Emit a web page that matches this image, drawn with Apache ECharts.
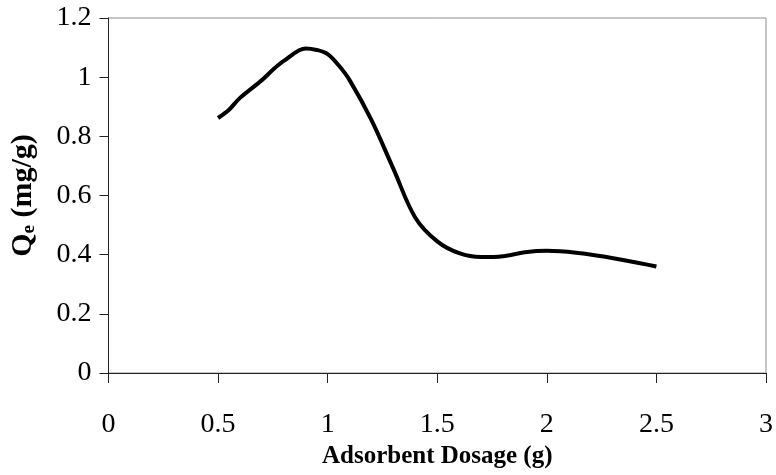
<!DOCTYPE html>
<html>
<head>
<meta charset="utf-8">
<script src="https://cdn.jsdelivr.net/npm/echarts@6/dist/echarts.min.js"></script>
<style>
  html, body { margin: 0; padding: 0; background: #fff; }
  #chart { width: 776px; height: 475px; }
</style>
</head>
<body>
<div id="chart"></div>
<script>
// adsorbent dosage (g) and Qe (mg/g)
const dosage = [0.5, 0.55, 0.6, 0.7, 0.75, 0.8, 0.9, 0.95, 1.0, 1.05, 1.1, 1.2, 1.3, 1.4, 1.5, 1.6, 1.7, 1.8, 1.9, 2.0, 2.5]
const qe = [0.862, 0.89, 0.93, 0.99, 1.025, 1.055, 1.097, 1.092, 1.078, 1.04, 0.99, 0.855, 0.69, 0.525, 0.445, 0.405, 0.392, 0.395, 0.408, 0.413, 0.36]

const xTicks = { min: 0, max: 3, interval: 0.5 }
const yTicks = { min: 0, max: 1.2, interval: 0.2 }

const font = 'Liberation Serif'

const chart = echarts.init(document.getElementById('chart'))

const option = {
  animation: false,
  grid: {
    left: 106,
    right: 6,
    top: 18,
    bottom: 102,
    show: true,
    borderColor: '#8c8c8c',
    borderWidth: 1
  },
  xAxis: {
    type: 'value',
    min: xTicks.min,
    max: xTicks.max,
    interval: xTicks.interval,
    name: 'Adsorbent Dosage (g)',
    nameLocation: 'middle',
    nameGap: 58,
    nameTextStyle: { fontFamily: font, fontWeight: 'bold', fontSize: 25, color: '#000' },
    axisLine: { lineStyle: { color: '#222', width: 1 } },
    axisTick: { inside: false, length: 10, lineStyle: { color: '#222' } },
    axisLabel: { fontFamily: font, fontSize: 28, color: '#000', margin: 38 },
    splitLine: { show: false }
  },
  yAxis: {
    type: 'value',
    min: yTicks.min,
    max: yTicks.max,
    interval: yTicks.interval,
    name: '{a|Q}{b|e}{a| (mg/g)}',
    nameLocation: 'middle',
    nameGap: 70,
    nameTextStyle: {
      rich: {
        a: { fontFamily: font, fontWeight: 'bold', fontSize: 30, color: '#000' },
        b: { fontFamily: font, fontWeight: 'bold', fontSize: 19, color: '#000', verticalAlign: 'bottom', padding: [12, 0, 0, 0] }
      }
    },
    axisLine: { show: true, lineStyle: { color: '#222', width: 1 } },
    axisTick: { show: true, length: 9, lineStyle: { color: '#222' } },
    axisLabel: {
      fontFamily: font,
      fontSize: 28,
      color: '#000',
      margin: 17,
      formatter: v => String(Math.round(v * 10) / 10)
    },
    splitLine: { show: false }
  },
  series: [
    {
      type: 'line',
      data: dosage.map((d, i) => [d, qe[i]]),
      smooth: 0.35,
      showSymbol: false,
      lineStyle: { color: '#000', width: 4 }
    }
  ]
}

chart.setOption(option)
window.addEventListener('resize', () => chart.resize())
</script>
</body>
</html>
